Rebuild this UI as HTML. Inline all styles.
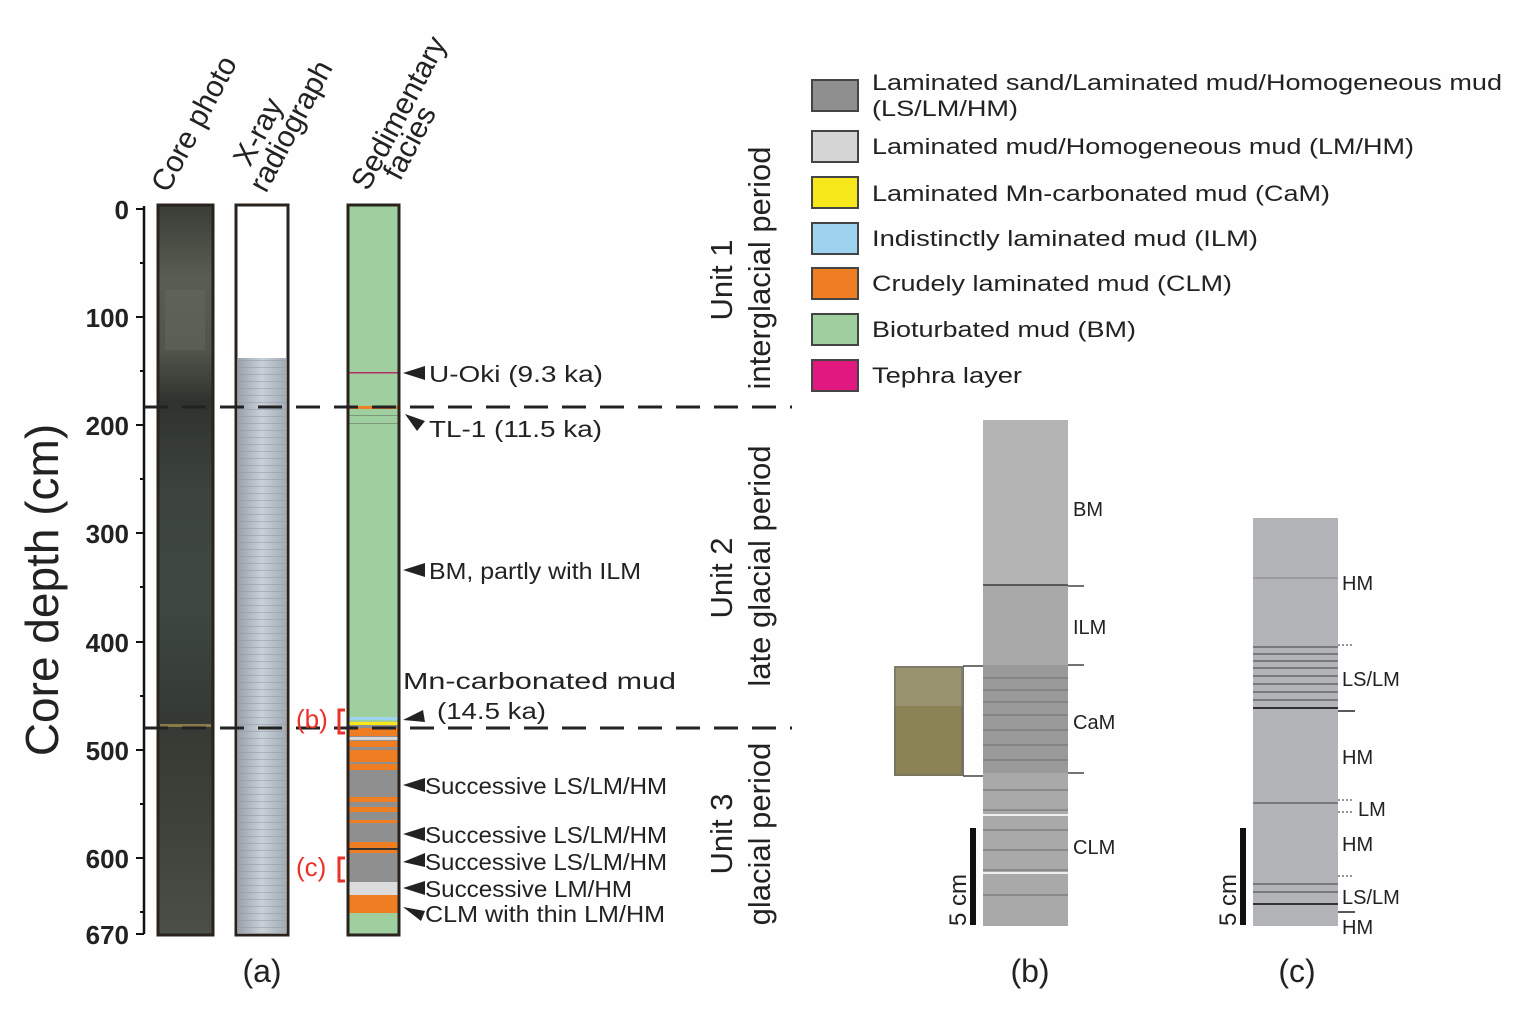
<!DOCTYPE html>
<html><head><meta charset="utf-8"><style>
html,body{margin:0;padding:0;background:#fefefe;}
svg{display:block}
text{font-family:"Liberation Sans",sans-serif;fill:#222}
</style></head><body>
<svg width="1514" height="1017" viewBox="0 0 1514 1017" xmlns="http://www.w3.org/2000/svg">
<defs>
<linearGradient id="core" x1="0" y1="0" x2="0" y2="1">
<stop offset="0" stop-color="#3a3d36"/><stop offset="0.1" stop-color="#5a5d52"/><stop offset="0.2" stop-color="#50544a"/><stop offset="0.27" stop-color="#2f332e"/><stop offset="0.4" stop-color="#3d443e"/><stop offset="0.55" stop-color="#3e4742"/><stop offset="0.7" stop-color="#343a33"/><stop offset="0.85" stop-color="#3d433a"/><stop offset="1" stop-color="#4a5048"/>
</linearGradient>
<linearGradient id="xr" x1="0" y1="0" x2="1" y2="0">
<stop offset="0" stop-color="#9aa3ad"/><stop offset="0.5" stop-color="#c8d0d8"/><stop offset="1" stop-color="#a3acb5"/>
</linearGradient>
<pattern id="lam" width="10" height="7" patternUnits="userSpaceOnUse"><rect width="10" height="7" fill="none"/><rect y="3" width="10" height="1" fill="#8e98a4" opacity="0.5"/></pattern>
</defs>

<!-- axis -->
<line x1="144" y1="206" x2="144" y2="934" stroke="#111" stroke-width="2.5"/>
<g stroke="#111" stroke-width="2">
<line x1="136" y1="209" x2="144" y2="209"/><line x1="136" y1="317" x2="144" y2="317"/><line x1="136" y1="425" x2="144" y2="425"/><line x1="136" y1="533" x2="144" y2="533"/><line x1="136" y1="642" x2="144" y2="642"/><line x1="136" y1="750" x2="144" y2="750"/><line x1="136" y1="858" x2="144" y2="858"/><line x1="136" y1="934" x2="144" y2="934"/>
<line x1="140" y1="263" x2="144" y2="263"/><line x1="140" y1="371" x2="144" y2="371"/><line x1="140" y1="479" x2="144" y2="479"/><line x1="140" y1="587" x2="144" y2="587"/><line x1="140" y1="696" x2="144" y2="696"/><line x1="140" y1="804" x2="144" y2="804"/><line x1="140" y1="912" x2="144" y2="912"/>
</g>
<g font-size="26" text-anchor="end" font-weight="bold">
<text x="129" y="219">0</text><text x="129" y="327">100</text><text x="129" y="435">200</text><text x="129" y="543">300</text><text x="129" y="652">400</text><text x="129" y="760">500</text><text x="129" y="868">600</text><text x="129" y="944">670</text>
</g>
<text transform="translate(58,590) rotate(-90)" font-size="46" text-anchor="middle">Core depth (cm)</text>

<!-- core photo -->
<rect x="158" y="205" width="55" height="730" fill="url(#core)" stroke="#2a221c" stroke-width="3"/>
<rect x="165" y="290" width="40" height="60" fill="#6a6d62" opacity="0.4"/>
<rect x="160" y="724" width="51" height="3" fill="#8a7a4a"/>
<!-- xray -->
<rect x="236" y="205" width="52" height="730" fill="#fff" stroke="#2a221c" stroke-width="3"/>
<rect x="238" y="358" width="48" height="575" fill="url(#xr)"/>
<rect x="238" y="358" width="48" height="575" fill="url(#lam)"/>
<rect x="236" y="205" width="52" height="730" fill="none" stroke="#2a221c" stroke-width="3"/>

<!-- facies -->
<rect x="348" y="205" width="51" height="730" fill="#9fcf9e"/>
<g>
<rect x="349" y="372" width="49" height="1.5" fill="#b0306a"/>
<rect x="349" y="406" width="49" height="3" fill="#ef7d22"/>
<rect x="349" y="415" width="49" height="1" fill="#7a9a7a"/>
<rect x="349" y="423" width="49" height="1" fill="#7a9a7a"/>
<rect x="349" y="717" width="49" height="3" fill="#9ed3ef"/>
<rect x="349" y="722" width="49" height="3" fill="#f7e81b"/>
<rect x="349" y="725" width="49" height="208" fill="#8f8f8f"/>
<rect x="349" y="728" width="49" height="8" fill="#ef7d22"/>
<rect x="349" y="737" width="49" height="3" fill="#d6d6d6"/>
<rect x="349" y="741" width="49" height="6" fill="#ef7d22"/>
<rect x="349" y="750" width="49" height="12" fill="#ef7d22"/>
<rect x="349" y="764" width="49" height="6" fill="#ef7d22"/>
<rect x="349" y="797" width="49" height="5" fill="#ef7d22"/>
<rect x="349" y="807" width="49" height="5" fill="#ef7d22"/>
<rect x="349" y="820" width="49" height="3" fill="#ef7d22"/>
<rect x="349" y="842" width="49" height="6" fill="#ef7d22"/>
<rect x="349" y="848" width="49" height="2" fill="#333"/>
<rect x="349" y="850" width="49" height="3" fill="#ef7d22"/>
<rect x="349" y="882" width="49" height="13" fill="#dcdcdc"/>
<rect x="349" y="895" width="49" height="18" fill="#ef7d22"/>
<rect x="349" y="913" width="49" height="21" fill="#9fcf9e"/>
</g>
<rect x="348" y="205" width="51" height="730" fill="none" stroke="#2a221c" stroke-width="3"/>

<!-- dashed -->
<line x1="144" y1="407" x2="792" y2="407" stroke="#222" stroke-width="3" stroke-dasharray="24,14"/>
<line x1="144" y1="728" x2="792" y2="728" stroke="#222" stroke-width="3" stroke-dasharray="24,14"/>

<!-- headers -->
<g font-size="30">
<text transform="translate(168,194) rotate(-62)">Core photo</text>
<text transform="translate(250,168) rotate(-62)">X-ray</text>
<text transform="translate(266,194) rotate(-62)">radiograph</text>
<text transform="translate(368,192) rotate(-62)">Sedimentary</text>
<text transform="translate(400,182) rotate(-62)">facies</text>
</g>

<!-- annotations -->
<g font-size="23">
<path d="M403,373 l22,-7 v14 z" fill="#222"/><text x="429" y="382" textLength="174" lengthAdjust="spacingAndGlyphs">U-Oki (9.3 ka)</text>
<path d="M405,414 l20,7 l-8,10 z" fill="#222"/><text x="429" y="437" textLength="173" lengthAdjust="spacingAndGlyphs">TL-1 (11.5 ka)</text>
<path d="M403,570 l22,-7 v14 z" fill="#222"/><text x="429" y="579" textLength="212" lengthAdjust="spacingAndGlyphs">BM, partly with ILM</text>
<text x="403" y="689" textLength="273" lengthAdjust="spacingAndGlyphs">Mn-carbonated mud</text>
<path d="M403,720 l20,-10 l2,12 z" fill="#222"/><text x="437" y="719" textLength="109" lengthAdjust="spacingAndGlyphs">(14.5 ka)</text>
<path d="M403,785 l22,-7 v14 z" fill="#222"/><text x="425" y="794" textLength="242" lengthAdjust="spacingAndGlyphs">Successive LS/LM/HM</text>
<path d="M403,834 l22,-7 v14 z" fill="#222"/><text x="425" y="843" textLength="242" lengthAdjust="spacingAndGlyphs">Successive LS/LM/HM</text>
<path d="M403,862 l22,-9 v14 z" fill="#222"/><text x="425" y="870" textLength="242" lengthAdjust="spacingAndGlyphs">Successive LS/LM/HM</text>
<path d="M403,888 l22,-7 v14 z" fill="#222"/><text x="425" y="897" textLength="207" lengthAdjust="spacingAndGlyphs">Successive LM/HM</text>
<path d="M403,907 l22,4 l-4,10 z" fill="#222"/><text x="425" y="922" textLength="240" lengthAdjust="spacingAndGlyphs">CLM with thin LM/HM</text>
</g>
<g font-size="26">
<text x="296" y="728" style="fill:#e8322a">(b)</text>
<text x="296" y="876" style="fill:#e8322a">(c)</text>
</g>
<path d="M345,710 h-6 v23 h6" fill="none" stroke="#e8322a" stroke-width="3"/>
<path d="M345,858 h-6 v23 h6" fill="none" stroke="#e8322a" stroke-width="3"/>

<text x="262" y="982" font-size="32" text-anchor="middle">(a)</text>

<!-- units -->
<g font-size="31" text-anchor="middle">
<text transform="translate(732,280) rotate(-90)">Unit 1</text>
<text transform="translate(770,268) rotate(-90)">interglacial period</text>
<text transform="translate(732,578) rotate(-90)">Unit 2</text>
<text transform="translate(770,566) rotate(-90)">late glacial period</text>
<text transform="translate(732,834) rotate(-90)">Unit 3</text>
<text transform="translate(770,834) rotate(-90)">glacial period</text>
</g>

<!-- legend -->
<g stroke="#444" stroke-width="2">
<rect x="812" y="80" width="46" height="31" fill="#8f8f8f"/>
<rect x="812" y="131" width="46" height="31" fill="#d6d6d6"/>
<rect x="812" y="177" width="46" height="31" fill="#f7e81b"/>
<rect x="812" y="223" width="46" height="31" fill="#9ed3ef"/>
<rect x="812" y="268" width="46" height="31" fill="#ef7d22"/>
<rect x="812" y="314" width="46" height="31" fill="#9fcf9e"/>
<rect x="812" y="360" width="46" height="31" fill="#e0187f"/>
</g>
<g font-size="22">
<text x="872" y="90" textLength="630" lengthAdjust="spacingAndGlyphs">Laminated sand/Laminated mud/Homogeneous mud</text>
<text x="872" y="116" textLength="146" lengthAdjust="spacingAndGlyphs">(LS/LM/HM)</text>
<text x="872" y="154" textLength="542" lengthAdjust="spacingAndGlyphs">Laminated mud/Homogeneous mud (LM/HM)</text>
<text x="872" y="201" textLength="458" lengthAdjust="spacingAndGlyphs">Laminated Mn-carbonated mud (CaM)</text>
<text x="872" y="246" textLength="386" lengthAdjust="spacingAndGlyphs">Indistinctly laminated mud (ILM)</text>
<text x="872" y="291" textLength="360" lengthAdjust="spacingAndGlyphs">Crudely laminated mud (CLM)</text>
<text x="872" y="337" textLength="264" lengthAdjust="spacingAndGlyphs">Bioturbated mud (BM)</text>
<text x="872" y="383" textLength="150" lengthAdjust="spacingAndGlyphs">Tephra layer</text>
</g>

<!-- panel b -->
<rect x="983" y="420" width="85" height="506" fill="#a9a9a9"/>
<rect x="983" y="420" width="85" height="165" fill="#b4b4b4"/>
<rect x="983" y="665" width="85" height="108" fill="#9a9a9a"/>
<g stroke="#777" stroke-width="1.5" opacity="0.8">
<line x1="983" y1="585" x2="1068" y2="585" stroke="#444" stroke-width="2"/>
<line x1="983" y1="678" x2="1068" y2="678"/><line x1="983" y1="690" x2="1068" y2="690"/><line x1="983" y1="702" x2="1068" y2="702"/><line x1="983" y1="715" x2="1068" y2="715"/><line x1="983" y1="730" x2="1068" y2="730"/><line x1="983" y1="745" x2="1068" y2="745"/><line x1="983" y1="760" x2="1068" y2="760"/>
<line x1="983" y1="790" x2="1068" y2="790"/><line x1="983" y1="810" x2="1068" y2="810"/><line x1="983" y1="830" x2="1068" y2="830"/><line x1="983" y1="850" x2="1068" y2="850"/><line x1="983" y1="870" x2="1068" y2="870"/><line x1="983" y1="895" x2="1068" y2="895"/>
</g>
<line x1="983" y1="815" x2="1068" y2="815" stroke="#eee" stroke-width="2"/>
<line x1="983" y1="873" x2="1068" y2="873" stroke="#eee" stroke-width="2"/>
<g stroke="#444" stroke-width="1.5">
<line x1="1068" y1="586" x2="1084" y2="586"/><line x1="1068" y1="665" x2="1084" y2="665"/><line x1="1068" y1="773" x2="1084" y2="773"/>
<line x1="963" y1="666" x2="983" y2="666"/><line x1="963" y1="776" x2="983" y2="776"/><line x1="963" y1="666" x2="963" y2="776"/>
</g>
<rect x="894" y="666" width="69" height="110" fill="#8b8256"/>
<rect x="894" y="666" width="69" height="40" fill="#9a9370"/>
<rect x="895" y="667" width="67" height="108" fill="none" stroke="#666" stroke-width="1"/>
<rect x="970" y="828" width="6" height="97" fill="#111"/>
<text transform="translate(966,926) rotate(-90)" font-size="24">5 cm</text>
<g font-size="20">
<text x="1073" y="516">BM</text><text x="1073" y="634">ILM</text><text x="1073" y="729">CaM</text><text x="1073" y="854">CLM</text>
</g>
<text x="1030" y="982" font-size="32" text-anchor="middle">(b)</text>

<!-- panel c -->
<rect x="1253" y="518" width="85" height="408" fill="#b3b4b8"/>
<g stroke="#666" stroke-width="1.5">
<line x1="1253" y1="578" x2="1338" y2="578" opacity="0.4"/>
<line x1="1253" y1="647" x2="1338" y2="647"/><line x1="1253" y1="654" x2="1338" y2="654"/><line x1="1253" y1="661" x2="1338" y2="661"/><line x1="1253" y1="668" x2="1338" y2="668"/><line x1="1253" y1="676" x2="1338" y2="676"/><line x1="1253" y1="684" x2="1338" y2="684"/><line x1="1253" y1="692" x2="1338" y2="692"/><line x1="1253" y1="700" x2="1338" y2="700"/>
<line x1="1253" y1="708" x2="1338" y2="708" stroke="#333" stroke-width="2"/>
<line x1="1253" y1="803" x2="1338" y2="803"/>
<line x1="1253" y1="884" x2="1338" y2="884"/><line x1="1253" y1="892" x2="1338" y2="892"/>
<line x1="1253" y1="904" x2="1338" y2="904" stroke="#333" stroke-width="2"/>
</g>
<g stroke="#555" stroke-width="1.2" stroke-dasharray="2,2">
<line x1="1338" y1="645" x2="1354" y2="645"/><line x1="1338" y1="800" x2="1354" y2="800"/><line x1="1338" y1="812" x2="1354" y2="812"/><line x1="1338" y1="876" x2="1354" y2="876"/>
</g>
<g stroke="#222" stroke-width="1.5">
<line x1="1338" y1="711" x2="1355" y2="711"/><line x1="1338" y1="912" x2="1355" y2="912"/>
</g>
<rect x="1240" y="828" width="6" height="97" fill="#111"/>
<text transform="translate(1236,926) rotate(-90)" font-size="24">5 cm</text>
<g font-size="20">
<text x="1342" y="590">HM</text><text x="1342" y="686">LS/LM</text><text x="1342" y="764">HM</text><text x="1358" y="816">LM</text><text x="1342" y="851">HM</text><text x="1342" y="904">LS/LM</text><text x="1342" y="934">HM</text>
</g>
<text x="1297" y="982" font-size="32" text-anchor="middle">(c)</text>
</svg>
</body></html>
